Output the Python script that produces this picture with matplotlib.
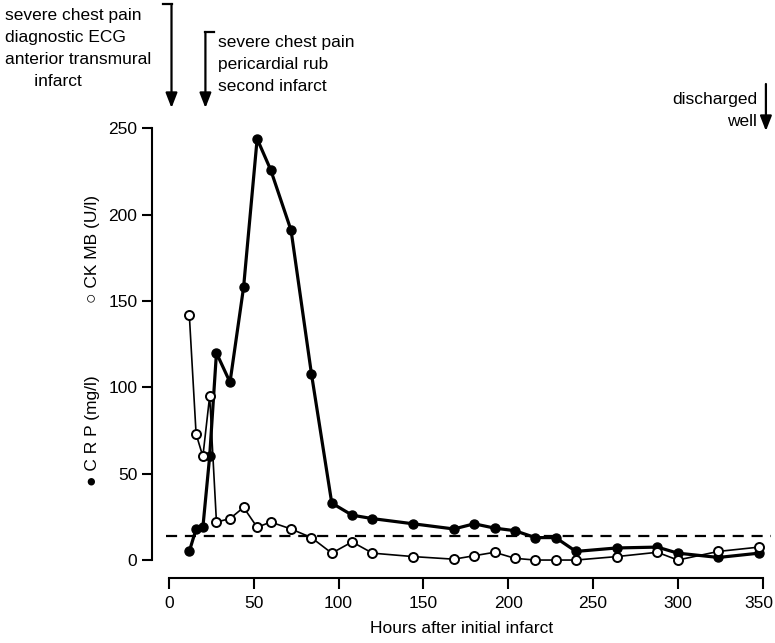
import matplotlib
matplotlib.use('Agg')
import matplotlib.pyplot as plt
from matplotlib.transforms import blended_transform_factory, ScaledTranslation

plt.rcParams['font.family'] = ['Liberation Sans', 'DejaVu Sans']

# hours after initial infarct
hours = [12, 16, 20, 24, 28, 36, 44, 52, 60, 72, 84, 96, 108, 120, 144, 168, 180,
         192, 204, 216, 228, 240, 264, 288, 300, 324, 348]
crp = [5, 18, 19, 60, 120, 103, 158, 244, 226, 191, 108, 33, 26, 24, 21, 18, 21,
       18.5, 17, 13, 13, 5, 7, 7.5, 4, 1.5, 4]
ckmb = [142, 73, 60, 95, 22, 24, 30.5, 19, 22, 18, 13, 4, 10.5, 4, 2, 0.5, 2.5,
        4.5, 1, 0, 0, 0, 2, 4.5, 0, 5, 7.5]
crp_limit = 14

x_ticks = [0, 50, 100, 150, 200, 250, 300, 350]
y_ticks = [0, 50, 100, 150, 200, 250]

W, H = 775, 643
fig = plt.figure(figsize=(W / 100, H / 100), dpi=100)
ax = fig.add_axes([152 / W, 65 / H, (771 - 152) / W, (578 - 100) / H])

ax.plot(hours, crp, color='black', lw=2.3, marker='o', ms=6.5, zorder=3)
ax.plot(hours, ckmb, color='black', lw=1.2, marker='o', ms=6.5,
        mfc='white', mec='black', mew=1.4, zorder=4)
ax.plot([-2, 355], [crp_limit, crp_limit], color='black', lw=1.6,
        dashes=(5, 3.5), zorder=2)

ax.set_xlim(-10, 355)
ax.set_ylim(-10.4, 266.5)
ax.set_xticks(x_ticks)
ax.set_yticks(y_ticks)
for s in ['top', 'right']:
    ax.spines[s].set_visible(False)
ax.spines['left'].set_bounds(0, 250)
ax.spines['bottom'].set_bounds(0, 350)
ax.spines['left'].set_linewidth(1.5)
ax.spines['bottom'].set_linewidth(1.5)
ax.tick_params(axis='both', direction='out', width=1.5, labelsize=12.5)
ax.tick_params(axis='y', length=7, pad=3.5)
ax.tick_params(axis='x', length=8, pad=5)

# keep the last x tick label inside the canvas
last = ax.get_xticklabels()[-1]
last.set_transform(last.get_transform() + ScaledTranslation(-4 / 100, 0, fig.dpi_scale_trans))

ax.set_xlabel('Hours after initial infarct', fontsize=12.5, labelpad=7)

# y axis labels (two series)
fig.text(92 / W, 1 - 249 / H, '\u25cb CK MB (U/l)', rotation=90,
         ha='center', va='center', fontsize=12.5)
fig.text(92 / W, 1 - 431 / H, '\u25cf C R P (mg/l)', rotation=90,
         ha='center', va='center', fontsize=12.5)


def fy(py):
    return 1 - py / H


coords = ('data', 'figure fraction')
mixed = blended_transform_factory(ax.transData, fig.transFigure)
arrow = dict(arrowstyle='-|>,head_length=0.9,head_width=0.35', color='black',
             lw=1.6, shrinkA=0, shrinkB=0)
gap = 1.57

# first event
ax.annotate('', xy=(1.5, fy(108)), xytext=(1.5, fy(4)), xycoords=coords,
            textcoords=coords, arrowprops=arrow, annotation_clip=False)
ax.plot([-3.5, 1.5], [fy(4), fy(4)], color='black', lw=1.6,
        transform=mixed, clip_on=False)
fig.text(5 / W, fy(8), 'severe chest pain\ndiagnostic ECG\nanterior transmural\n      infarct',
         ha='left', va='top', fontsize=12.5, linespacing=gap)

# second event
ax.annotate('', xy=(21.5, fy(108)), xytext=(21.5, fy(32)), xycoords=coords,
            textcoords=coords, arrowprops=arrow, annotation_clip=False)
ax.plot([21.5, 26.5], [fy(32), fy(32)], color='black', lw=1.6,
        transform=mixed, clip_on=False)
fig.text(218 / W, fy(35), 'severe chest pain\npericardial rub\nsecond infarct',
         ha='left', va='top', fontsize=12.5, linespacing=gap)

# discharge
ax.annotate('', xy=(352, fy(131)), xytext=(352, fy(84)), xycoords=coords,
            textcoords=coords, arrowprops=arrow, annotation_clip=False)
fig.text(757 / W, fy(92), 'discharged\nwell', ha='right', va='top',
         fontsize=12.5, linespacing=gap, multialignment='right')

fig.savefig('out.png', dpi=100)
